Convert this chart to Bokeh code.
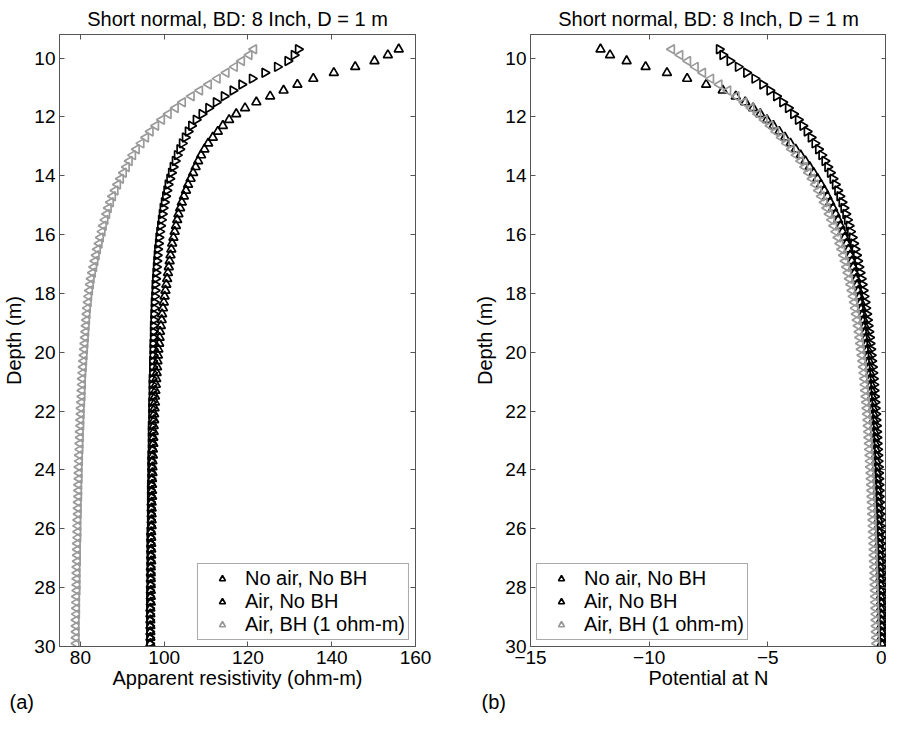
from math import pi
from bokeh.plotting import figure
from bokeh.layouts import row
from bokeh.models import Range1d, FixedTicker, LinearAxis, Title, Legend, ColumnDataSource
from bokeh.embed import file_html
from bokeh.resources import INLINE

# ---------------- data ----------------
depth = [9.7, 9.9, 10.1, 10.3, 10.5, 10.7, 10.9, 11.1, 11.3, 11.5,
         11.7, 11.9, 12.1, 12.3, 12.5, 12.7, 12.9, 13.1, 13.3, 13.5,
         13.7, 13.9, 14.1, 14.3, 14.5, 14.7, 14.9, 15.1, 15.3, 15.5,
         15.7, 15.9, 16.1, 16.3, 16.5, 16.7, 16.9, 17.1, 17.3, 17.5,
         17.7, 17.9, 18.1, 18.3, 18.5, 18.7, 18.9, 19.1, 19.3, 19.5,
         19.7, 19.9, 20.1, 20.3, 20.5, 20.7, 20.9, 21.1, 21.3, 21.5,
         21.7, 21.9, 22.1, 22.3, 22.5, 22.7, 22.9, 23.1, 23.3, 23.5,
         23.7, 23.9, 24.1, 24.3, 24.5, 24.7, 24.9, 25.1, 25.3, 25.5,
         25.7, 25.9, 26.1, 26.3, 26.5, 26.7, 26.9, 27.1, 27.3, 27.5,
         27.7, 27.9, 28.1, 28.3, 28.5, 28.7, 28.9, 29.1, 29.3, 29.5,
         29.7, 29.9]

# (a) apparent resistivity (ohm-m)
rho_noair_nobh = [132.0, 131.0, 129.5, 127.0, 124.0, 121.0, 118.5, 116.4, 114.3, 112.4,
                  110.6, 109.0, 107.6, 106.5, 105.7, 105.0, 104.3, 103.7, 103.1, 102.6,
                  102.1, 101.7, 101.3, 100.9, 100.6, 100.3, 100.0, 99.7, 99.5, 99.3,
                  99.1, 98.9, 98.7, 98.6, 98.4, 98.3, 98.2, 98.1, 98.0, 97.9,
                  97.8, 97.8, 97.7, 97.6, 97.6, 97.5, 97.5, 97.4, 97.4, 97.4,
                  97.3, 97.3, 97.3, 97.2, 97.2, 97.2, 97.1, 97.1, 97.1, 97.1,
                  97.0, 97.0, 97.0, 97.0, 96.9, 96.9, 96.9, 96.9, 96.9, 96.8,
                  96.8, 96.8, 96.8, 96.8, 96.7, 96.7, 96.7, 96.7, 96.7, 96.7,
                  96.7, 96.7, 96.6, 96.6, 96.6, 96.6, 96.6, 96.6, 96.6, 96.6,
                  96.6, 96.6, 96.5, 96.5, 96.5, 96.5, 96.5, 96.5, 96.5, 96.5,
                  96.5, 96.5]
rho_air_nobh = [156.0, 153.4, 150.2, 145.6, 140.5, 135.6, 131.8, 128.5, 125.3, 122.0,
                119.3, 117.2, 115.5, 114.0, 112.8, 111.6, 110.5, 109.6, 108.8, 108.1,
                107.5, 106.9, 106.3, 105.7, 105.2, 104.7, 104.2, 103.8, 103.4, 103.1,
                102.8, 102.5, 102.2, 101.9, 101.7, 101.5, 101.3, 101.1, 100.9, 100.7,
                100.5, 100.3, 100.1, 99.9, 99.7, 99.5, 99.4, 99.2, 99.0, 98.9,
                98.8, 98.6, 98.5, 98.4, 98.3, 98.2, 98.1, 98.0, 97.9, 97.8,
                97.8, 97.7, 97.6, 97.6, 97.5, 97.5, 97.4, 97.4, 97.3, 97.3,
                97.2, 97.2, 97.2, 97.1, 97.1, 97.1, 97.1, 97.0, 97.0, 97.0,
                97.0, 97.0, 96.9, 96.9, 96.9, 96.9, 96.9, 96.9, 96.8, 96.8,
                96.8, 96.8, 96.8, 96.8, 96.8, 96.7, 96.7, 96.7, 96.7, 96.7,
                96.7, 96.7]
rho_air_bh = [121.4, 120.3, 118.5, 116.8, 114.8, 112.7, 110.6, 108.5, 106.5, 104.4,
              102.7, 101.0, 99.4, 98.0, 96.7, 95.6, 94.5, 93.4, 92.5, 91.7,
              91.0, 90.3, 89.6, 88.9, 88.3, 87.7, 87.2, 86.7, 86.3, 85.9,
              85.5, 85.2, 84.8, 84.5, 84.1, 83.8, 83.5, 83.2, 82.9, 82.6,
              82.4, 82.2, 82.0, 81.9, 81.7, 81.6, 81.5, 81.4, 81.3, 81.2,
              81.1, 81.0, 80.9, 80.8, 80.7, 80.6, 80.5, 80.5, 80.4, 80.4,
              80.3, 80.2, 80.2, 80.1, 80.1, 80.0, 80.0, 79.9, 79.9, 79.8,
              79.8, 79.7, 79.7, 79.7, 79.6, 79.6, 79.6, 79.5, 79.5, 79.5,
              79.4, 79.4, 79.4, 79.4, 79.3, 79.3, 79.3, 79.3, 79.2, 79.2,
              79.2, 79.2, 79.2, 79.1, 79.1, 79.1, 79.1, 79.0, 79.0, 79.0,
              79.0, 79.0]

# (b) potential at N
v_noair_nobh = [-7.05, -6.90, -6.60, -6.25, -5.90, -5.55, -5.22, -4.92, -4.64, -4.38,
                -4.14, -3.92, -3.72, -3.53, -3.35, -3.18, -3.02, -2.87, -2.73, -2.60,
                -2.48, -2.37, -2.26, -2.16, -2.06, -1.97, -1.88, -1.80, -1.72, -1.65,
                -1.58, -1.52, -1.45, -1.39, -1.33, -1.27, -1.22, -1.17, -1.12, -1.07,
                -1.03, -0.99, -0.95, -0.91, -0.88, -0.84, -0.81, -0.78, -0.75, -0.72,
                -0.70, -0.67, -0.65, -0.63, -0.60, -0.58, -0.56, -0.54, -0.53, -0.51,
                -0.49, -0.48, -0.46, -0.45, -0.43, -0.42, -0.41, -0.40, -0.38, -0.37,
                -0.36, -0.35, -0.34, -0.33, -0.32, -0.31, -0.31, -0.30, -0.29, -0.28,
                -0.27, -0.27, -0.26, -0.25, -0.25, -0.24, -0.23, -0.23, -0.22, -0.21,
                -0.21, -0.20, -0.20, -0.19, -0.19, -0.18, -0.18, -0.17, -0.17, -0.16,
                -0.16, -0.15]
v_air_nobh = [-12.05, -11.65, -10.95, -10.15, -9.25, -8.40, -7.60, -6.90, -6.35, -5.95,
              -5.62, -5.32, -5.04, -4.77, -4.52, -4.28, -4.05, -3.83, -3.62, -3.42,
              -3.24, -3.07, -2.91, -2.76, -2.62, -2.49, -2.37, -2.25, -2.14, -2.04,
              -1.94, -1.85, -1.76, -1.68, -1.60, -1.53, -1.46, -1.40, -1.34, -1.28,
              -1.23, -1.18, -1.13, -1.08, -1.04, -1.00, -0.96, -0.92, -0.89, -0.86,
              -0.83, -0.80, -0.77, -0.74, -0.72, -0.69, -0.67, -0.65, -0.63, -0.61,
              -0.59, -0.57, -0.55, -0.54, -0.52, -0.51, -0.49, -0.48, -0.46, -0.45,
              -0.44, -0.43, -0.41, -0.40, -0.39, -0.38, -0.37, -0.36, -0.35, -0.34,
              -0.34, -0.33, -0.32, -0.31, -0.31, -0.30, -0.29, -0.28, -0.28, -0.27,
              -0.27, -0.26, -0.25, -0.25, -0.24, -0.24, -0.23, -0.23, -0.22, -0.22,
              -0.21, -0.21]
v_air_bh = [-9.05, -8.70, -8.37, -8.05, -7.74, -7.40, -7.05, -6.68, -6.33, -6.00,
            -5.70, -5.42, -5.15, -4.90, -4.66, -4.43, -4.21, -4.00, -3.80, -3.61,
            -3.44, -3.28, -3.13, -2.99, -2.86, -2.74, -2.62, -2.51, -2.41, -2.31,
            -2.22, -2.13, -2.04, -1.96, -1.88, -1.81, -1.74, -1.68, -1.62, -1.56,
            -1.50, -1.45, -1.40, -1.35, -1.31, -1.27, -1.23, -1.19, -1.15, -1.12,
            -1.09, -1.06, -1.03, -1.00, -0.97, -0.95, -0.92, -0.90, -0.88, -0.86,
            -0.84, -0.82, -0.80, -0.78, -0.77, -0.75, -0.74, -0.72, -0.71, -0.69,
            -0.68, -0.67, -0.65, -0.64, -0.63, -0.62, -0.61, -0.60, -0.59, -0.58,
            -0.57, -0.56, -0.55, -0.54, -0.53, -0.52, -0.52, -0.51, -0.50, -0.49,
            -0.49, -0.48, -0.47, -0.46, -0.46, -0.45, -0.44, -0.44, -0.43, -0.43,
            -0.42, -0.41]

series_labels = ["No air, No BH", "Air, No BH", "Air, BH (1 ohm-m)"]
title_text = "Short normal, BD: 8 Inch, D = 1 m"
y_ticks = [10, 12, 14, 16, 18, 20, 22, 24, 26, 28, 30]
x_ticks_a = [80, 100, 120, 140, 160]
x_ticks_b = [-15, -10, -5, 0]

# ---------------- styling ----------------
FONT = "Liberation Sans"
FRAME = "#555555"
GRAY = "#9a9a9a"


def style_axis(ax, ticks, labels=True):
    ax.ticker = FixedTicker(ticks=ticks)
    ax.major_tick_in = 5
    ax.major_tick_out = 0
    ax.minor_tick_line_color = None
    ax.major_tick_line_color = FRAME
    ax.axis_line_color = FRAME
    ax.major_label_text_font = FONT
    ax.major_label_text_font_size = "19px"
    ax.major_label_text_color = "black"
    ax.major_label_standoff = 4
    ax.axis_label_text_font = FONT
    ax.axis_label_text_font_size = "20px"
    ax.axis_label_text_font_style = "normal"
    ax.axis_label_text_color = "black"
    if not labels:
        ax.major_label_overrides = {t: "" for t in ticks}
        ax.major_label_standoff = 0


def make_panel(xvals, xr, xticks, xlabel, tag, legend_loc, width, mbl, mbr, tag_offset):
    p = figure(width=width, height=718, x_range=Range1d(*xr), y_range=Range1d(30, 9.2),
               output_backend="svg", toolbar_location=None,
               min_border_left=mbl, min_border_right=mbr,
               min_border_top=33, min_border_bottom=72,
               background_fill_color="white", border_fill_color="white")
    p.grid.visible = False
    p.outline_line_color = FRAME
    p.outline_line_width = 1

    p.title.text = title_text
    p.title.align = "center"
    p.title.text_font = FONT
    p.title.text_font_size = "20px"
    p.title.text_font_style = "normal"
    p.title.text_color = "black"

    style_axis(p.xaxis[0], xticks)
    style_axis(p.yaxis[0], y_ticks)
    p.xaxis[0].axis_label = xlabel
    p.xaxis[0].axis_label_standoff = 0
    p.yaxis[0].axis_label = "Depth (m)"
    p.yaxis[0].axis_label_standoff = 6

    top = LinearAxis()
    style_axis(top, xticks, labels=False)
    p.add_layout(top, "above")
    right = LinearAxis()
    style_axis(right, y_ticks, labels=False)
    p.add_layout(right, "right")

    # right-pointing, up-pointing, left-pointing open triangles
    specs = [(-pi / 2, "black"), (0.0, "black"), (pi / 2, GRAY)]
    renderers = []
    for vals, (ang, col) in zip(xvals, specs):
        src = ColumnDataSource(dict(x=vals, y=depth))
        r = p.scatter("x", "y", source=src, marker="triangle", angle=ang, size=9,
                      line_color=col, fill_color=None, line_width=1.7)
        renderers.append(r)

    legend = Legend(items=[(lab, [r]) for lab, r in zip(series_labels, renderers)],
                    location=legend_loc, margin=6, padding=3, spacing=0,
                    glyph_width=42, glyph_height=15, label_standoff=2,
                    label_text_font=FONT, label_text_font_size="20px",
                    label_text_color="black",
                    border_line_color=FRAME, border_line_width=1,
                    background_fill_color="white", background_fill_alpha=1.0)
    p.add_layout(legend)

    p.add_layout(Title(text=tag, align="left", offset=tag_offset, standoff=-5,
                       text_font=FONT, text_font_size="20px", text_font_style="normal",
                       text_color="black"), "below")
    return p


p1 = make_panel([rho_noair_nobh, rho_air_nobh, rho_air_bh], (75, 160), x_ticks_a,
                "Apparent resistivity (ohm-m)", "(a)", "bottom_right",
                471, 52, 56, -50)
p2 = make_panel([v_noair_nobh, v_air_nobh, v_air_bh], (-15, 0), x_ticks_b,
                "Potential at N", "(b)", "bottom_left",
                415, 52, 0, -49)

layout = row(p1, p2)
open("out.html", "w").write(file_html(layout, INLINE))
